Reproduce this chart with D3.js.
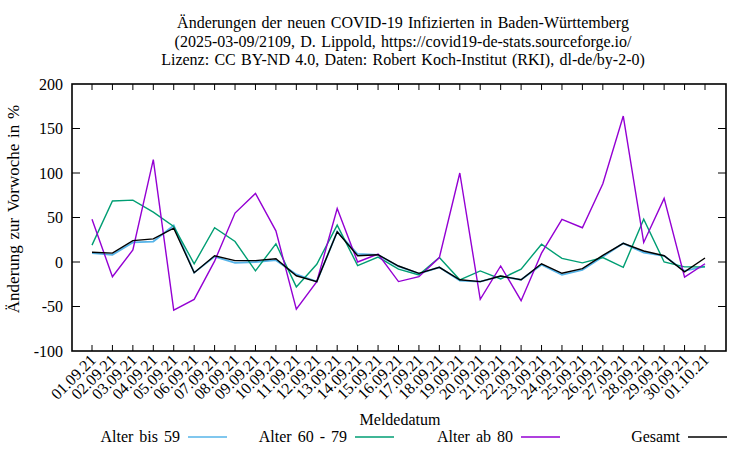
<!DOCTYPE html>
<html><head><meta charset="utf-8">
<script src="https://cdn.jsdelivr.net/npm/d3@7/dist/d3.min.js"></script>
<style>body{margin:0;background:#fff}svg{display:block;font-family:"Liberation Serif","DejaVu Serif",serif}</style>
</head><body><svg id="c" width="750" height="450"></svg>
<script>
const dates = ["01.09.21","02.09.21","03.09.21","04.09.21","05.09.21","06.09.21","07.09.21","08.09.21","09.09.21","10.09.21","11.09.21","12.09.21","13.09.21","14.09.21","15.09.21","16.09.21","17.09.21","18.09.21","19.09.21","20.09.21","21.09.21","22.09.21","23.09.21","24.09.21","25.09.21","26.09.21","27.09.21","28.09.21","29.09.21","30.09.21","01.10.21"];
const bis59 = [10,8,22,23,41,-12,6,-1,0,2,-14,-22,34,9,8,-5,-13,-6,-21,-22,-16,-20,-3,-14.5,-9,6,21,10.5,7,-10,-5];
const v60_79 = [19,68.5,69.5,56,40,-2,38.5,23,-10,20.5,-28,-2.5,41.5,-4,5.5,-8,-14.5,5,-20,-10,-19,-8,20,4,-1,5,-6,48,0,-5.5,-5.5];
const ab80 = [48,-16.5,13.5,115,-54,-42,1,55,77,35,-53,-22,60,0,9,-22,-16.5,5,100,-42,-4.5,-43.5,10,48,38.5,88,164,22,71.5,-17,-2];
const gesamt = [11,10,24,26,38,-12,7,1.5,1.5,3.7,-15.5,-22,34,7,8.2,-4.5,-12.7,-6,-20,-22,-15.7,-20,-2,-12.7,-7.5,7.5,21,12.4,7,-11,4.5];
const yTicks = [-100,-50,0,50,100,150,200];
const series = [
  {name:"Alter bis 59", values:bis59, color:"#56b4e9"},
  {name:"Alter 60 - 79", values:v60_79, color:"#009e73"},
  {name:"Alter ab 80", values:ab80, color:"#9400d3"},
  {name:"Gesamt", values:gesamt, color:"#000000"}
];
const titleLines = ["Änderungen der neuen COVID-19 Infizierten in Baden-Württemberg","(2025-03-09/2109, D. Lippold, https://covid19-de-stats.sourceforge.io/","Lizenz: CC BY-ND 4.0, Daten: Robert Koch-Institut (RKI), dl-de/by-2-0)"];

const svg = d3.select("#c");
const L=72, R=726, T=84, B=351;
const x = d3.scalePoint().domain(dates).range([92,705]);
const y = d3.scaleLinear().domain([-100,200]).range([B,T]);

// title
svg.append("g").selectAll("text").data(titleLines).join("text")
  .attr("x",403).attr("y",(d,i)=>28+i*18.5).attr("text-anchor","middle")
  .attr("font-size",16).attr("word-spacing",1.3).text(d=>d);

// axes ticks (inward, all sides)
const g = svg.append("g").attr("stroke","#000").attr("stroke-width",1);
g.selectAll(".yl").data(yTicks.slice(1,-1)).join("line").attr("x1",L).attr("x2",L+8).attr("y1",d=>y(d)).attr("y2",d=>y(d));
g.selectAll(".yr").data(yTicks.slice(1,-1)).join("line").attr("x1",R).attr("x2",R-8).attr("y1",d=>y(d)).attr("y2",d=>y(d));
g.selectAll(".xb").data(dates).join("line").attr("class","xb").attr("x1",d=>x(d)).attr("x2",d=>x(d)).attr("y1",B).attr("y2",B-6);
g.selectAll(".xt").data(dates).join("line").attr("class","xt").attr("x1",d=>x(d)).attr("x2",d=>x(d)).attr("y1",T).attr("y2",T+6);

svg.append("g").selectAll("text").data(yTicks).join("text")
  .attr("x",63).attr("y",d=>y(d)+5.5).attr("text-anchor","end").attr("font-size",16).text(d=>d);

svg.append("g").selectAll("text").data(dates).join("text")
  .attr("transform",d=>`translate(${x(d)+5},${B+10}) rotate(-45)`)
  .attr("text-anchor","end").attr("font-size",16).text(d=>d);

svg.append("text").attr("transform","translate(19,209) rotate(-90)").attr("text-anchor","middle")
  .attr("font-size",17).attr("word-spacing",1.5).text("Änderung zur Vorwoche in %");
svg.append("text").attr("x",400).attr("y",425).attr("text-anchor","middle").attr("font-size",16).text("Meldedatum");

// lines
const line = d3.line().x((d,i)=>x(dates[i])).y(d=>y(d));
series.forEach(s=>{
  svg.append("path").attr("d",line(s.values)).attr("fill","none")
    .attr("stroke",s.color).attr("stroke-width",s.name==="Alter bis 59"?1.8:1.4).attr("stroke-linejoin","miter");
});

// border
svg.append("rect").attr("x",L).attr("y",T).attr("width",R-L).attr("height",B-T)
  .attr("fill","none").attr("stroke","#000").attr("stroke-width",1.6);

// legend
const legX = [180,347,513,680];
series.forEach((s,i)=>{
  svg.append("text").attr("x",legX[i]).attr("y",442).attr("text-anchor","end").attr("font-size",16).attr("word-spacing",2).text(s.name);
  svg.append("line").attr("x1",legX[i]+8).attr("x2",legX[i]+47).attr("y1",437).attr("y2",437)
    .attr("stroke",s.color).attr("stroke-width",1.6);
});
</script></body></html>
